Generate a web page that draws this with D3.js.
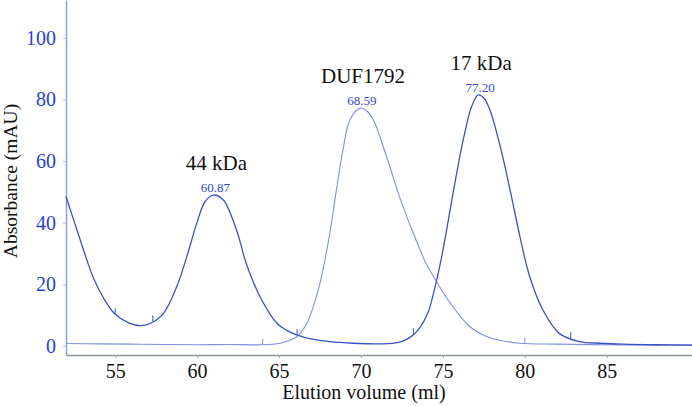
<!DOCTYPE html>
<html>
<head>
<meta charset="utf-8">
<script src="https://cdn.jsdelivr.net/npm/d3@7"></script>
<style>
  body { margin: 0; background: #fff; }
  svg { display: block; }
  svg text { font-family: "Liberation Serif", "DejaVu Serif", serif !important; }
</style>
</head>
<body>
<div id="chart"></div>
<script>
// elution volume (ml) / absorbance (mAU), standards run (44 kDa + 17 kDa)
const stdVolume = [52.0, 52.4, 52.87, 53.3, 53.68, 54.3, 55.0, 55.8, 56.5, 57.13, 57.95, 58.76, 59.37, 59.98, 60.49, 61.0, 61.6, 62.4, 63.0, 63.84, 64.9, 65.5, 66.08, 67.0, 68.1, 69.5, 71.16, 72.3, 73.0, 73.6, 74.1, 74.6, 75.0, 75.4, 75.8, 76.24, 76.75, 77.15, 77.5, 77.87, 78.5, 79.1, 79.7, 80.3, 81.1, 82.1, 83.35, 84.6, 86.0, 88.0, 90.2];
const stdAbs = [48.5, 42, 34.4, 27.5, 22, 15.5, 10.3, 7.6, 6.6, 7.3, 10.6, 19.3, 29, 39.8, 46.9, 49.0, 47.4, 37.7, 26.8, 16, 7.2, 5.0, 3.6, 2.2, 1.4, 0.9, 0.7, 1.2, 2.8, 6.0, 11, 21, 31, 43, 55, 66.9, 77.7, 81.5, 80.5, 76.6, 64.7, 50.6, 35.5, 22.5, 11.7, 4.1, 1.4, 0.9, 0.6, 0.4, 0.3];

// DUF1792 run
const dufVolume = [52.0, 54.0, 56.0, 58.0, 60.0, 62.0, 64.0, 65.06, 65.6, 66.08, 66.7, 67.1, 67.5, 68.1, 68.5, 68.9, 69.33, 69.94, 70.3, 70.75, 71.56, 72.38, 73.2, 74.0, 74.6, 75.4, 76.6, 77.7, 78.7, 79.7, 82.0, 85.0, 88.0, 90.2];
const dufAbs = [0.8, 0.7, 0.6, 0.5, 0.4, 0.5, 0.4, 0.9, 1.8, 3, 7.4, 13, 20.4, 36.6, 50.6, 63.6, 73.4, 77.2, 76.5, 73.4, 61.5, 48, 36.5, 26.5, 21, 14.3, 6.5, 3, 1.6, 0.9, 0.6, 0.4, 0.3, 0.3];

// fraction marks on each trace
const stdFractions = [55.0, 57.3, 66.1, 73.2, 82.8];
const dufFractions = [64.0, 80.0];

// peaks: apex volume, software label, protein name
const peakVolumes = [61.0, 69.94, 77.15];
const peakValues = ["60.87", "68.59", "77.20"];
const peakNames = ["44 kDa", "DUF1792", "17 kDa"];

const xTicks = [55, 60, 65, 70, 75, 80, 85];
const yTicks = [0, 20, 40, 60, 80, 100];

const width = 692;
const height = 406;
const margin = { top: 0, right: 0, bottom: 51, left: 66 };
const serif = "Liberation Serif, DejaVu Serif, serif";

const svg = d3.select("#chart")
  .append("svg")
  .attr("width", width)
  .attr("height", height)
  .attr("font-family", serif);

const x = d3.scaleLinear()
  .domain([52, 90.2])
  .range([margin.left, width - margin.right]);

const y = d3.scaleLinear()
  .domain([-2.92, 112.3])
  .range([height - margin.bottom, margin.top]);

// axes
const xAxis = svg.append("g")
  .attr("transform", `translate(0,${height - margin.bottom})`)
  .call(d3.axisBottom(x).tickValues(xTicks).tickSize(3).tickPadding(6).tickSizeOuter(0))
  .attr("font-family", serif)
  .attr("font-size", 20);
xAxis.select(".domain").attr("stroke", "#8a9690").attr("stroke-width", 1.5);
xAxis.selectAll(".tick line").attr("stroke", "#a0a8a4");
xAxis.selectAll("text").attr("fill", "#111");

const yAxis = svg.append("g")
  .attr("transform", `translate(${margin.left},0)`)
  .call(d3.axisLeft(y).tickValues(yTicks).tickSize(3).tickPadding(7).tickSizeOuter(0))
  .attr("font-family", serif)
  .attr("font-size", 20);
yAxis.select(".domain").attr("stroke", "#8e9ee6").attr("stroke-width", 1.5);
yAxis.selectAll(".tick line").attr("stroke", "#b0bcef");
yAxis.selectAll("text").attr("fill", "#2a3fd0");

// axis titles
svg.append("text")
  .attr("x", 364)
  .attr("y", 399)
  .attr("text-anchor", "middle")
  .attr("fill", "#111")
  .attr("font-size", 20)
  .text("Elution volume (ml)");

svg.append("text")
  .attr("transform", "rotate(-90)")
  .attr("x", -181)
  .attr("y", 17)
  .attr("text-anchor", "middle")
  .attr("fill", "#111")
  .attr("font-size", 19.5)
  .text("Absorbance (mAU)");

// traces
const line = d3.line()
  .x(d => x(d[0]))
  .y(d => y(d[1]))
  .curve(d3.curveCatmullRom.alpha(0.5));

const stdData = stdVolume.map((v, i) => [v, stdAbs[i]]);
const dufData = dufVolume.map((v, i) => [v, dufAbs[i]]);

svg.append("path")
  .datum(dufData)
  .attr("fill", "none")
  .attr("stroke", "#7d90e2")
  .attr("stroke-width", 1.1)
  .attr("d", line);

svg.append("path")
  .datum(stdData)
  .attr("fill", "none")
  .attr("stroke", "#3a52c8")
  .attr("stroke-width", 1.3)
  .attr("d", line);

// fraction marks sit on the trace
function valueAt(vols, abs, v) {
  const i = d3.bisectLeft(vols, v);
  if (i <= 0) return abs[0];
  if (i >= vols.length) return abs[abs.length - 1];
  const t = (v - vols[i - 1]) / (vols[i] - vols[i - 1]);
  return abs[i - 1] + t * (abs[i] - abs[i - 1]);
}

function marks(fracs, vols, abs, color) {
  svg.append("g")
    .selectAll("line")
    .data(fracs)
    .join("line")
    .attr("x1", d => x(d))
    .attr("x2", d => x(d))
    .attr("y1", d => y(valueAt(vols, abs, d)))
    .attr("y2", d => y(valueAt(vols, abs, d)) - 6)
    .attr("stroke", color)
    .attr("stroke-width", 1);
}
marks(stdFractions, stdVolume, stdAbs, "#3a52c8");
marks(dufFractions, dufVolume, dufAbs, "#7d90e2");

// peak annotations
const peaks = peakVolumes.map((v, i) => {
  const onStd = i !== 1;
  const val = onStd ? valueAt(stdVolume, stdAbs, v) : valueAt(dufVolume, dufAbs, v);
  return { v, val, label: peakValues[i], name: peakNames[i] };
});

svg.append("g")
  .selectAll("text")
  .data(peaks)
  .join("text")
  .attr("x", d => x(d.v) + 2)
  .attr("y", d => y(d.val) - 3)
  .attr("text-anchor", "middle")
  .attr("fill", "#3346cc")
  .attr("font-size", 13)
  .text(d => d.label);

svg.append("g")
  .selectAll("text")
  .data(peaks)
  .join("text")
  .attr("x", d => x(d.v) + 3)
  .attr("y", d => y(d.val) - 25)
  .attr("text-anchor", "middle")
  .attr("fill", "#111")
  .attr("font-size", 21)
  .text(d => d.name);
</script>
</body>
</html>
